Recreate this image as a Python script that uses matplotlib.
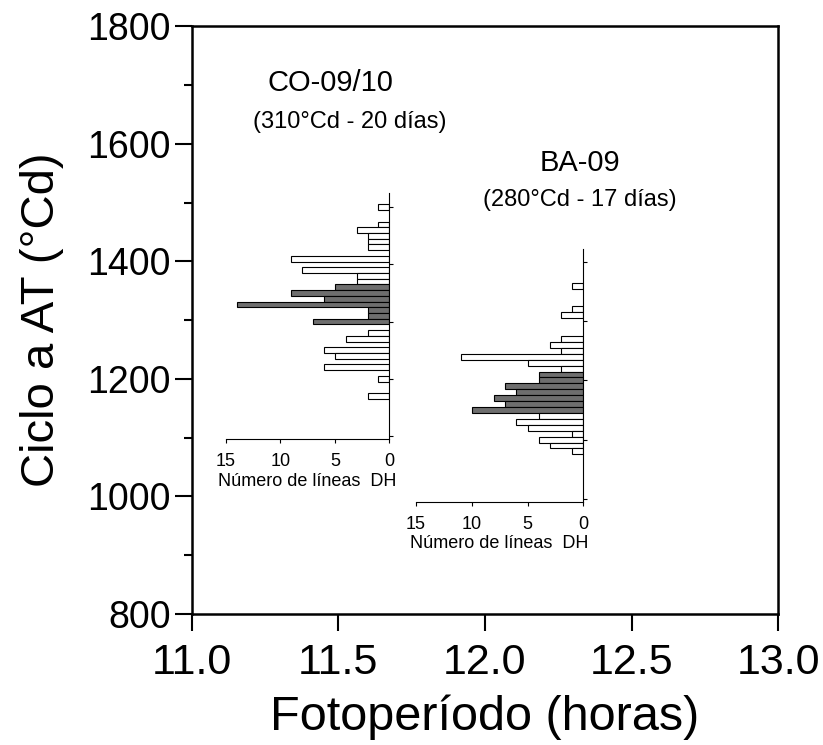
import matplotlib
matplotlib.use("Agg")
import matplotlib.pyplot as plt
from matplotlib.ticker import MultipleLocator

plt.rcParams["font.family"] = ["Liberation Sans", "DejaVu Sans"]

# CO-09/10: class centres (°Cd), number of lines, DH class flag
co_ciclo = [1500, 1470, 1460, 1450, 1440, 1430, 1410, 1390, 1380, 1370,
            1360, 1350, 1340, 1330, 1320, 1310, 1300,
            1280, 1270, 1250, 1240, 1220, 1200, 1170]
co_lineas = [1, 1, 3, 2, 2, 2, 9, 8, 3, 3,
             5, 9, 6, 14, 2, 2, 7,
             2, 4, 6, 5, 6, 1, 2]
co_dh = [0] * 10 + [1] * 7 + [0] * 7

# BA-09
ba_ciclo = [1360, 1320, 1310, 1270, 1260, 1250, 1240, 1230, 1220,
            1210, 1200, 1190, 1180, 1170, 1160, 1150,
            1140, 1130, 1120, 1110, 1100, 1090, 1080]
ba_lineas = [1, 1, 2, 2, 3, 2, 11, 5, 2,
             4, 4, 7, 6, 8, 7, 10,
             4, 6, 5, 1, 4, 3, 1]
ba_dh = [0] * 9 + [1] * 7 + [0] * 7

x_ticks = [11.0, 11.5, 12.0, 12.5, 13.0]
y_ticks = [800, 1000, 1200, 1400, 1600, 1800]

W, H = 823, 745
fig = plt.figure(figsize=(W / 100, H / 100), dpi=100)


def px_axes(x0, x1, y_top, y_bot):
    return fig.add_axes([x0 / W, (H - y_bot) / H, (x1 - x0) / W, (y_bot - y_top) / H])


# main axes
ax = px_axes(191.7, 778.3, 26.5, 614)
ax.set_xlim(11.0, 13.0)
ax.set_ylim(800, 1800)
ax.set_xticks(x_ticks)
ax.set_xticklabels([f"{v:.1f}" for v in x_ticks])
ax.set_yticks(y_ticks)
ax.yaxis.set_minor_locator(MultipleLocator(100))
for s in ax.spines.values():
    s.set_linewidth(1.8)
ax.tick_params(axis="both", which="major", length=12, width=1.5, direction="out")
ax.tick_params(axis="y", which="major", labelsize=27, pad=3)
ax.tick_params(axis="x", which="major", labelsize=31, pad=9)
ax.tick_params(axis="y", which="minor", length=6, width=1.5)
ax.set_xlabel("Fotoperíodo (horas)", fontsize=35, labelpad=8)
ax.set_ylabel("Ciclo a AT (°Cd)", fontsize=34, labelpad=17)


def inset(box, ciclo, lineas, dh, ylim, yticks):
    a = px_axes(*box)
    colors = ["#6e6e6e" if d else "white" for d in dh]
    a.barh(ciclo, lineas, height=10, color=colors, edgecolor="black", linewidth=0.8)
    a.set_xlim(15, 0)
    a.set_ylim(*ylim)
    a.set_xticks([15, 10, 5, 0])
    a.set_yticks(yticks)
    a.yaxis.tick_right()
    a.tick_params(axis="y", labelright=False, length=3, width=0.8)
    a.tick_params(axis="x", length=3, width=0.8, labelsize=13, pad=7)
    a.spines["left"].set_visible(False)
    a.spines["top"].set_visible(False)
    a.spines["right"].set_linewidth(0.8)
    a.spines["bottom"].set_linewidth(0.8)
    a.patch.set_alpha(0)
    a.set_xlabel("Número de líneas  DH", fontsize=13, labelpad=2)
    return a


inset((226, 389.3, 193.3, 439.3), co_ciclo, co_lineas, co_dh,
      (1094, 1524.5), [1100, 1200, 1300, 1400, 1500])
inset((416, 583.3, 249.3, 501.7), ba_ciclo, ba_lineas, ba_dh,
      (995, 1421.5), [1000, 1100, 1200, 1300, 1400])

fig.text(330 / W, 1 - 83 / H, "CO-09/10", fontsize=21, ha="center", va="center")
fig.text(350 / W, 1 - 122 / H, "(310°Cd - 20 días)", fontsize=17, ha="center", va="center")
fig.text(580 / W, 1 - 163 / H, "BA-09", fontsize=21, ha="center", va="center")
fig.text(580 / W, 1 - 200 / H, "(280°Cd - 17 días)", fontsize=17, ha="center", va="center")

fig.savefig("out.png", dpi=100)
